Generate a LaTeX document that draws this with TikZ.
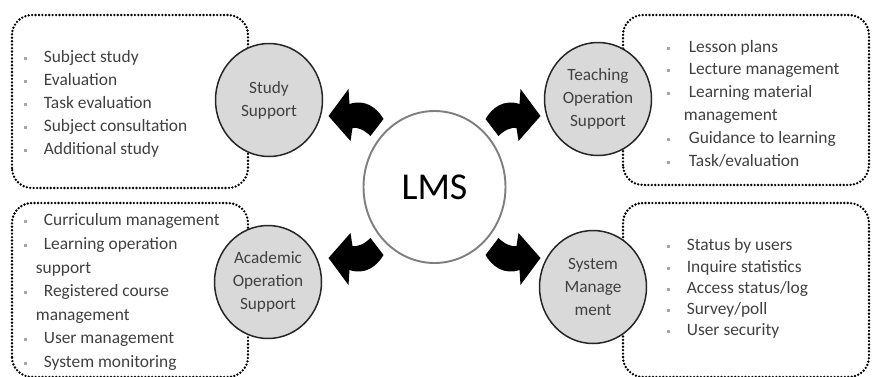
\documentclass[tikz,border=0pt]{standalone}
\usepackage{fontspec}
\setmainfont{Carlito}
\usetikzlibrary{shapes.geometric}

\definecolor{txtgray}{HTML}{404040}
\definecolor{circfill}{HTML}{D9D9D9}
\definecolor{bulletgray}{HTML}{A6A6A6}
\definecolor{lmsedge}{HTML}{7F7F7F}

\newcommand\blt{\textcolor{bulletgray}{\rule[0.3ex]{1.7pt}{1.7pt}}}
\newcommand\itm[1][0.4cm]{\makebox[#1][l]{\blt}}

\tikzset{
  dotbox/.style={line width=1.5pt, dash pattern=on 0pt off 1.95pt, line cap=round, rounded corners=0.4cm},
  topic/.style={ellipse, draw=black!85, line width=0.85pt, fill=circfill, text=txtgray,
    minimum width=2.14cm, minimum height=2.26cm, align=center, inner sep=0pt,
    font=\fontsize{9.8}{13}\selectfont},
  itemlist/.style={anchor=west, align=left, inner sep=0pt, text=txtgray},
  lmsarrow/.pic={
    \fill[black] (-2.12,1.42) -- (-1.72,1.96) -- (-1.70,1.66)
      .. controls (-1.40,1.76) and (-1.16,1.60) .. (-1.02,1.36) -- (-1.28,1.02)
      .. controls (-1.40,1.14) and (-1.54,1.20) .. (-1.64,1.18) -- (-1.68,0.92) -- cycle;
  },
}

\begin{document}
\begin{tikzpicture}
\useasboundingbox (0,0) rectangle (17.44,7.52);

% dotted frames
\draw[dotbox] (0.24,3.76) rectangle (4.96,7.22);
\draw[dotbox] (12.46,3.82) rectangle (17.38,7.22);
\draw[dotbox] (0.24,-0.02) rectangle (4.96,3.46);
\draw[dotbox] (12.46,-0.02) rectangle (17.38,3.46);

% lists
\node[itemlist, font=\fontsize{9.9}{13}\selectfont] (studylist) at (0.47,5.44) {%
  \itm Subject study\\ \itm Evaluation\\ \itm Task evaluation\\
  \itm Subject consultation\\ \itm Additional study};
\node[itemlist, font=\fontsize{9.9}{13}\selectfont] (teachlist) at (13.33,5.45) {%
  \itm[0.44cm]Lesson plans\\ \itm[0.44cm]Lecture management\\
  \itm[0.44cm]Learning material\\ \hspace*{0.34cm}management\\
  \itm[0.44cm]Guidance to learning\\ \itm[0.44cm]Task/evaluation};
\node[itemlist, font=\fontsize{9.9}{13.4}\selectfont] (acadlist) at (0.47,1.68) {%
  \itm Curriculum management\\ \itm Learning operation\\ \hspace*{0.24cm}support\\
  \itm Registered course\\ \hspace*{0.24cm}management\\
  \itm User management\\ \itm System monitoring};
\node[itemlist, font=\fontsize{9.9}{12}\selectfont] (syslist) at (13.33,1.75) {%
  \itm Status by users\\ \itm Inquire statistics\\ \itm Access status/log\\
  \itm Survey/poll\\ \itm User security};

% topic circles
\node[topic] (study) at (5.38,5.52) {Study\\Support};
\node[topic] (teach) at (11.96,5.54) {Teaching\\Operation\\Support};
\node[topic] (acad) at (5.36,1.88) {Academic\\Operation\\Support};
\node[topic] (sys) at (11.86,1.78) {System\\Manage\\ment};

\node[ellipse, draw=lmsedge, line width=1.1pt, minimum width=2.84cm, minimum height=3.04cm,
  font=\fontsize{21.6}{26}\selectfont] (lms) at (8.69,3.78) {LMS};

% curved arrows out of the hub
\pic at (lms.center) {lmsarrow};
\pic[xscale=-1] at (lms.center) {lmsarrow};
\pic[yscale=-1] at (lms.center) {lmsarrow};
\pic[xscale=-1, yscale=-1] at (lms.center) {lmsarrow};

\end{tikzpicture}
\end{document}
